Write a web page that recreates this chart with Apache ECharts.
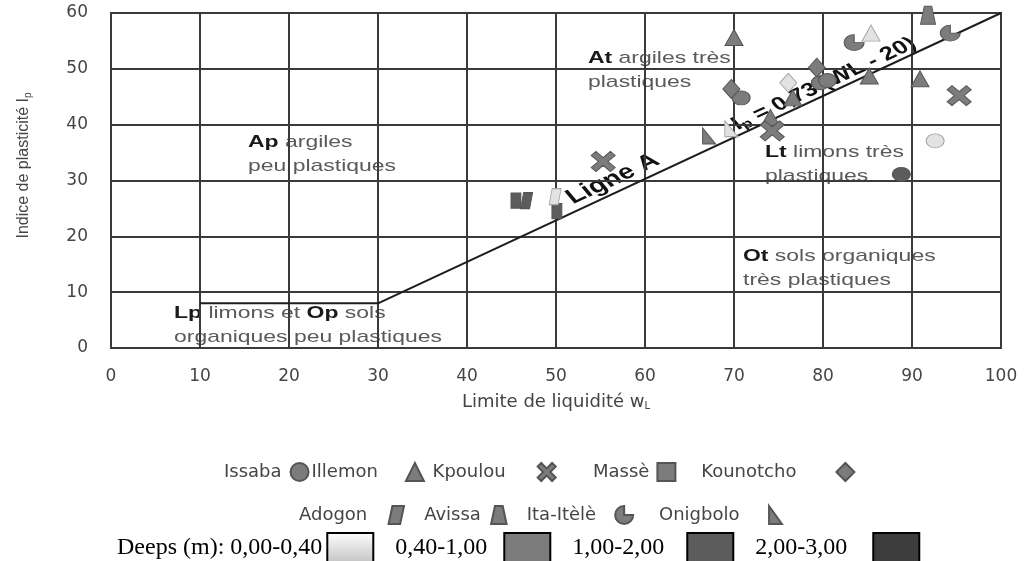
<!DOCTYPE html>
<html>
<head>
<meta charset="utf-8">
<script src="https://cdn.jsdelivr.net/npm/echarts@6/dist/echarts.min.js"></script>
<style>
html, body { margin: 0; padding: 0; background: #fff; }
#container { width: 1025px; height: 561px; }
</style>
</head>
<body>
<div id="container"></div>
<script>
// axes
var xMin = 0, xMax = 100, xStep = 10;
var yMin = 0, yMax = 60, yStep = 10;

// depth classes (m)
var depthLabels = ['0,00-0,40', '0,40-1,00', '1,00-2,00', '2,00-3,00'];
var depthColors = ['#e2e2e2', '#7c7c7c', '#5c5c5c', '#3d3d3d'];

// [wL, Ip, depth class]
var issaba = [[70.8, 44.8, 1], [79.7, 47.5, 1], [80.5, 47.9, 1], [88.8, 31.1, 2], [92.6, 37.1, 0]];
var illemon = [[70, 55.6, 1], [74.1, 41.3, 1], [76.6, 44.8, 1], [85.2, 48.7, 1], [90.9, 48.2, 1], [85.4, 56.4, 0]];
var kpoulou = [[55.3, 33.4, 1], [74.3, 38.9, 1], [95.3, 45.2, 1]];
var masse = [[45.5, 26.4, 2], [50.1, 24.5, 2]];
var kounotcho = [[69.7, 46.4, 1], [76.1, 47.5, 0], [79.3, 50.2, 1]];
var adogon = [[46.7, 26.4, 2], [49.9, 27.1, 0]];
var avissa = [[91.8, 59.6, 1]];
var itaItele = [[83.5, 54.7, 1], [94.3, 56.4, 1]];
var onigbolo = [[67.2, 38, 1], [69.7, 39.3, 0]];

// ligne A
var ligneA = [[10, 8], [30, 8], [100, 60]];

var sites = [
    { name: 'Issaba', data: issaba, symbol: 'circle', size: [18, 14] },
    { name: 'Illemon', data: illemon, symbol: 'triangle', size: [18, 16] },
    { name: 'Kpoulou', data: kpoulou, symbol: 'path://M2,0 L5,3 L8,0 L10,2 L7,5 L10,8 L8,10 L5,7 L2,10 L0,8 L3,5 L0,2 Z', size: [24, 20] },
    { name: 'Massè', data: masse, symbol: 'rect', size: [10, 15] },
    { name: 'Kounotcho', data: kounotcho, symbol: 'diamond', size: [17, 19] },
    { name: 'Adogon', data: adogon, symbol: 'path://M3,0 L12,0 L9,14 L0,14 Z', size: [12, 16] },
    { name: 'Avissa', data: avissa, symbol: 'path://M3,0 L9,0 L12,14 L0,14 Z', size: [15, 18] },
    { name: 'Ita-Itèlè', data: itaItele, symbol: 'path://M10,10 L20,10 A10,10 0 1,1 10,0 Z', size: [20, 16] },
    { name: 'Onigbolo', data: onigbolo, symbol: 'path://M0,0 L0,14 L10,14 Z', size: [13, 16] }
];

var series = [{
    name: 'Ligne A',
    type: 'line',
    data: ligneA,
    symbol: 'none',
    silent: true,
    z: 1,
    lineStyle: { color: '#1e1e1e', width: 2 }
}];

sites.forEach(function (s) {
    series.push({
        name: s.name,
        type: 'scatter',
        symbol: s.symbol,
        symbolSize: s.size,
        z: 3,
        itemStyle: { color: '#7c7c7c', borderColor: '#555', borderWidth: 1, opacity: 1 },
        data: s.data.map(function (d) {
            return {
                value: [d[0], d[1]],
                itemStyle: {
                    color: depthColors[d[2]],
                    borderColor: d[2] === 0 ? '#a8a8a8' : '#555',
                    borderWidth: 1,
                    opacity: 1
                }
            };
        })
    });
});

depthLabels.forEach(function (lab, i) {
    series.push({
        name: lab,
        type: 'scatter',
        data: [],
        itemStyle: {
            opacity: 1,
            color: i === 0 ? new echarts.graphic.LinearGradient(0, 0, 0, 1, [
                { offset: 0, color: '#ffffff' }, { offset: 1, color: '#c4c4c4' }]) : depthColors[i],
            borderColor: '#000',
            borderWidth: 1.5
        }
    });
});

// spaces before each legend name, and px between name and its icon
var spacesBefore = { 'Issaba': 0, 'Illemon': 0, 'Kpoulou': 1, 'Massè': 6, 'Kounotcho': 4,
                     'Adogon': 0, 'Avissa': 3, 'Ita-Itèlè': 3, 'Onigbolo': 4 };
var gapAfter = { 'Issaba': 4, 'Illemon': 23, 'Kpoulou': 27, 'Massè': 3, 'Kounotcho': 35,
                 'Adogon': 15, 'Avissa': 4, 'Ita-Itèlè': 14, 'Onigbolo': 22 };

var legendFont = { fontFamily: 'DejaVu Sans', fontSize: 18, color: '#454545' };
var depthFont = { fontFamily: 'Liberation Serif', fontSize: 24, color: '#000' };

function siteItem(name) {
    return { name: name, textStyle: Object.assign({ padding: [0, gapAfter[name], 0, 0] }, legendFont) };
}
function siteFormatter(name) {
    return new Array(spacesBefore[name] + 1).join('\u00a0') + name;
}
function depthItem(name, pr) {
    return { name: name, icon: 'rect', textStyle: Object.assign({ padding: [0, pr, 0, 0] }, depthFont) };
}

function label(x, y, text) {
    return {
        type: 'group', x: x, y: y, scaleX: 1.35,
        children: [{
            type: 'text',
            style: {
                text: text,
                fill: '#5a5a5a',
                font: '17px "Liberation Sans"',
                lineHeight: 24,
                rich: {
                    b: { fontWeight: 'bold', fontSize: 17, fontFamily: 'Liberation Sans', fill: '#1a1a1a', lineHeight: 24 }
                }
            }
        }]
    };
}

function slanted(x, y, text, size) {
    return {
        type: 'group', x: x, y: y, scaleX: 1.35,
        children: [{
            type: 'text',
            rotation: 0.56,
            style: {
                text: text,
                align: 'center',
                verticalAlign: 'middle',
                fill: '#111',
                font: 'bold ' + size + 'px "Liberation Sans"',
                rich: {
                    sub: { fontWeight: 'bold', fontSize: 13, fontFamily: 'Liberation Sans', fill: '#111', padding: [8, 0, 0, 0] }
                }
            }
        }]
    };
}

var dom = document.getElementById('container');
var myChart = echarts.init(dom);

myChart.setOption({
    backgroundColor: '#fff',
    animation: false,
    grid: { left: 111, right: 24, top: 13, bottom: 213, show: true, borderColor: '#3a3a3a', borderWidth: 2 },
    xAxis: {
        type: 'value',
        min: xMin, max: xMax, interval: xStep,
        name: 'Limite de liquidité w{sub|L}',
        nameLocation: 'middle',
        nameGap: 45,
        nameTextStyle: {
            fontFamily: 'DejaVu Sans', fontSize: 18, color: '#444',
            rich: { sub: { fontFamily: 'DejaVu Sans', fontSize: 10, color: '#444', padding: [8, 0, 0, 0] } }
        },
        axisLine: { show: true, lineStyle: { color: '#3a3a3a', width: 2 } },
        axisTick: { show: false },
        axisLabel: { margin: 20, fontFamily: 'DejaVu Sans', fontSize: 17, color: '#454545' },
        splitLine: { show: true, lineStyle: { color: '#3a3a3a', width: 2 } }
    },
    yAxis: {
        type: 'value',
        min: yMin, max: yMax, interval: yStep,
        name: 'Indice de plasticité I{sub|p}',
        nameLocation: 'middle',
        nameGap: 78,
        nameTextStyle: {
            fontFamily: 'Liberation Sans Narrow, Liberation Sans', fontSize: 16, color: '#444',
            padding: [0, 0, 0, 30],
            rich: { sub: { fontFamily: 'Liberation Sans', fontSize: 10, color: '#444', padding: [8, 0, 0, 0] } }
        },
        axisLine: { show: true, lineStyle: { color: '#3a3a3a', width: 2 } },
        axisTick: { show: false },
        axisLabel: { margin: 23, fontFamily: 'DejaVu Sans', fontSize: 17, color: '#454545' },
        splitLine: { show: true, lineStyle: { color: '#3a3a3a', width: 2 } }
    },
    legend: [{
        left: 219, top: 457, orient: 'horizontal', align: 'right',
        itemWidth: 18, itemHeight: 18, itemGap: 2, selectedMode: false,
        formatter: siteFormatter,
        data: ['Issaba', 'Illemon', 'Kpoulou', 'Massè', 'Kounotcho'].map(siteItem)
    }, {
        left: 294, top: 500, orient: 'horizontal', align: 'right',
        itemWidth: 18, itemHeight: 18, itemGap: 2, selectedMode: false,
        formatter: siteFormatter,
        data: ['Adogon', 'Avissa', 'Ita-Itèlè', 'Onigbolo'].map(siteItem)
    }, {
        left: 112, top: 527, orient: 'horizontal', align: 'right',
        itemWidth: 46, itemHeight: 29, itemGap: 21, selectedMode: false,
        formatter: function (name) { return name === depthLabels[0] ? 'Deeps (m): ' + name : name; },
        data: [depthItem(depthLabels[0], 0), depthItem(depthLabels[1], 12),
               depthItem(depthLabels[2], 18), depthItem(depthLabels[3], 21)]
    }],
    graphic: [
        label(588, 46, '{b|At} argiles très\nplastiques'),
        label(248, 130, '{b|Ap} argiles\npeu plastiques'),
        label(765, 140, '{b|Lt} limons très\nplastiques'),
        label(743, 244, '{b|Ot} sols organiques\ntrès plastiques'),
        label(174, 301, '{b|Lp} limons et {b|Op} sols\norganiques peu plastiques'),
        slanted(613, 179, 'Ligne A', 21),
        slanted(824, 84, 'I{sub|p} = 0,73 (WL - 20)', 19)
    ],
    series: series
});
</script>
</body>
</html>
